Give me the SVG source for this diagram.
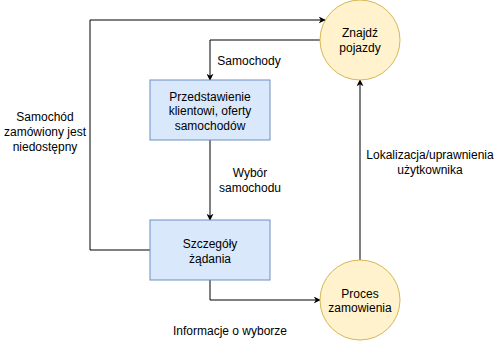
<svg xmlns="http://www.w3.org/2000/svg" width="494" height="341" viewBox="0 0 494 341">
  <style>
    text { font-family: "Liberation Sans", Arial, sans-serif; font-size: 12px; fill: #000; text-anchor: middle; }
    .box { fill: #dae8fc; stroke: #6c8ebf; stroke-width: 1; }
    .proc { fill: #fff2cc; stroke: #d6b656; stroke-width: 1; }
    .edge { fill: none; stroke: #000; stroke-width: 1; }
  </style>
  <defs>
    <marker id="arrow" viewBox="0 0 10 10" refX="9" refY="5" markerWidth="7" markerHeight="7" markerUnits="userSpaceOnUse" orient="auto">
      <path d="M0,0 L10,5 L0,10 L3,5 Z" fill="#000"/>
    </marker>
  </defs>
  <rect width="494" height="341" fill="#fff"/>

  <g id="connectors">
    <!-- rejection loop back to search -->
    <path class="edge" d="M150,250 H90 V20 H325" marker-end="url(#arrow)"/>
    <!-- found vehicles to offer presentation -->
    <path class="edge" d="M320,40 H210 V80" marker-end="url(#arrow)"/>
    <!-- choice to request details -->
    <path class="edge" d="M210,140 V220" marker-end="url(#arrow)"/>
    <!-- request details to order process -->
    <path class="edge" d="M210,280 V300 H320" marker-end="url(#arrow)"/>
    <!-- order process to search -->
    <path class="edge" d="M360,260 V80" marker-end="url(#arrow)"/>

    <text x="249" y="65">Samochody</text>
    <text x="250" y="177">Wybór</text>
    <text x="250" y="192">samochodu</text>
    <text x="430" y="159">Lokalizacja/uprawnienia</text>
    <text x="430" y="174">użytkownika</text>
    <text x="230" y="335">Informacje o wyborze</text>
    <text x="45" y="121">Samochód</text>
    <text x="45" y="136">zamówiony jest</text>
    <text x="45" y="151">niedostępny</text>
  </g>

  <g id="znajdz-pojazdy">
    <circle class="proc" cx="360" cy="40" r="40"/>
    <text x="360" y="37">Znajdź</text>
    <text x="360" y="52">pojazdy</text>
  </g>

  <g id="przedstawienie">
    <rect class="box" x="150" y="80" width="120" height="60"/>
    <text x="210" y="101">Przedstawienie</text>
    <text x="210" y="115">klientowi, oferty</text>
    <text x="210" y="130">samochodów</text>
  </g>

  <g id="szczegoly">
    <rect class="box" x="150" y="220" width="120" height="60"/>
    <text x="210" y="248">Szczegóły</text>
    <text x="210" y="263">żądania</text>
  </g>

  <g id="proces-zamowienia">
    <circle class="proc" cx="360" cy="300" r="40"/>
    <text x="360" y="298">Proces</text>
    <text x="360" y="312">zamowienia</text>
  </g>
</svg>
